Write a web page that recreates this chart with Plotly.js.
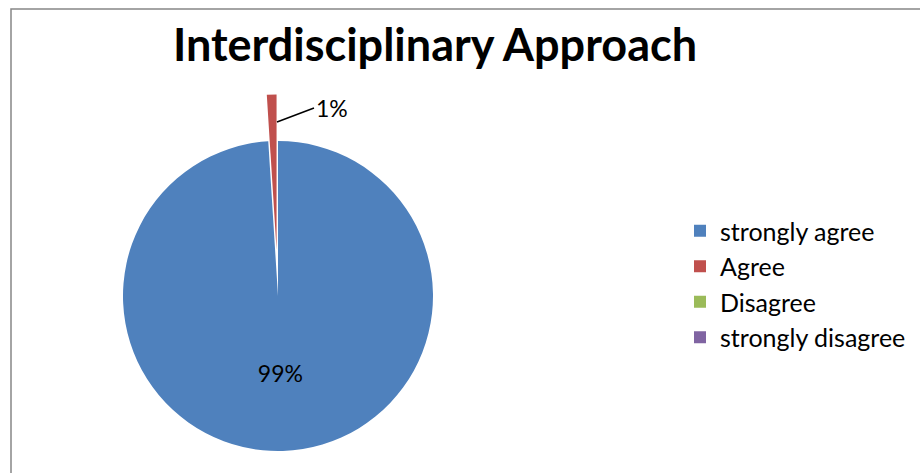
<!DOCTYPE html>
<html><head><meta charset="utf-8">
<script src="https://cdn.plot.ly/plotly-3.0.1.min.js"></script>
<style>html,body{margin:0;padding:0;overflow:hidden;background:#fff}#chart{width:920px;height:560px}</style>
</head><body><div id="chart"></div>
<script>
const categories = ["strongly agree", "Agree", "Disagree", "strongly disagree"];
const values = [99, 1, 0, 0];
const colors = ["#4F81BD", "#C0504D", "#9BBB59", "#8064A2"];
const textTemplates = ["%{percent:.0%}", "", "", ""];
const textPositions = ["inside", "none", "none", "none"];
const pulls = [0, 0.3, 0, 0];

const W = 920, H = 560;
const cx = 278, cy = 296, R = 155;
const half = R * 1.3;

const total = values.reduce((a, b) => a + b, 0);
const agreeLabel = Math.round(100 * values[1] / total) + "%";

const trace = {
  type: "pie",
  labels: categories,
  values: values,
  sort: false,
  direction: "clockwise",
  rotation: 0,
  pull: pulls,
  marker: {colors: colors, line: {width: 0}},
  texttemplate: textTemplates,
  textposition: textPositions,
  insidetextorientation: "horizontal",
  textfont: {family: "Lato", size: 23, color: "#000"},
  insidetextfont: {family: "Lato", size: 23, color: "#000"},
  hoverinfo: "label+percent",
  domain: {x: [(cx - half) / W, (cx + half) / W], y: [(H - cy - half) / H, (H - cy + half) / H]},
  showlegend: true
};

const layout = {
  width: W, height: H,
  margin: {l: 0, r: 0, t: 0, b: 0},
  paper_bgcolor: "#fff",
  font: {family: "Lato", color: "#000"},
  title: {text: "<b>Interdisciplinary Approach</b>", font: {family: "Lato", size: 45, color: "#000"},
          x: 435 / W, xanchor: "center", y: 1 - 45 / H, yanchor: "middle"},
  legend: {x: 680 / W, xanchor: "left", y: 1 - 284 / H, yanchor: "middle",
           font: {family: "Lato", size: 25, color: "#000"}, bgcolor: "rgba(0,0,0,0)"},
  annotations: [{xref: "paper", yref: "paper", x: 277 / W, y: 1 - 122 / H,
                 text: agreeLabel, showarrow: true, arrowhead: 0, arrowwidth: 1.5, arrowcolor: "#000",
                 ax: 37, ay: -14, xanchor: "left", yanchor: "middle",
                 font: {family: "Lato", size: 23, color: "#000"}}],
  shapes: [{type: "rect", xref: "paper", yref: "paper", x0: 11 / W, x1: 1.05, y0: -0.05, y1: 1 - 9 / H,
            line: {color: "#868686", width: 1.5}, fillcolor: "rgba(0,0,0,0)", layer: "below"}]
};

Plotly.newPlot("chart", [trace], layout, {displayModeBar: false});
</script></body></html>
